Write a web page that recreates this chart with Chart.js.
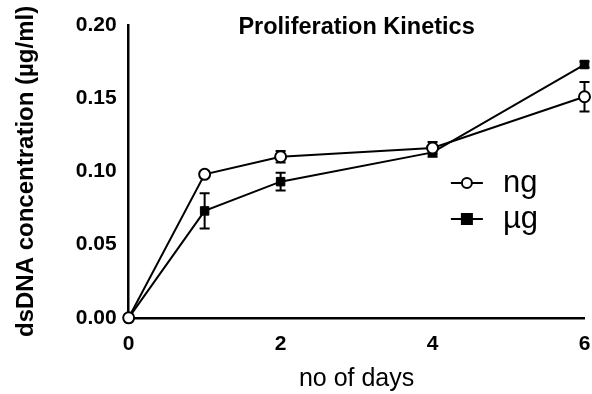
<!DOCTYPE html>
<html><head><meta charset="utf-8">
<script src="https://cdn.jsdelivr.net/npm/chart.js@4/dist/chart.umd.min.js"></script>
<style>html,body{margin:0;padding:0;background:#fff}#wrap{width:592px;height:394px}</style>
</head><body><div id="wrap"><canvas id="c" width="592" height="394"></canvas></div>
<script>
const days = [0, 1, 2, 4, 6];
const ngMean = [0, 0.098, 0.110, 0.116, 0.151];
const ngErr = [0, 0.002, 0.004, 0.004, 0.010];
const ugMean = [0, 0.073, 0.093, 0.113, 0.173];
const ugErr = [0, 0.012, 0.006, 0.003, 0.002];
const seriesNames = ['ng', '\u00b5g'];
const xTicks = [0, 2, 4, 6];
const yTicks = [0, 0.05, 0.10, 0.15, 0.20];
const chartTitle = 'Proliferation Kinetics';
const xTitle = 'no of days';
const yTitle = 'dsDNA concentration (\u00b5g/ml)';

const FONT = '"Liberation Sans", Arial, Helvetica, sans-serif';
const errs = [ngErr, ugErr];

const errorBars = {
  id: 'errorBars',
  beforeDatasetsDraw(chart) {
    const ctx = chart.ctx, y = chart.scales.y, x = chart.scales.x;
    ctx.save();
    ctx.strokeStyle = '#000'; ctx.lineWidth = 2;
    chart.data.datasets.forEach((ds, i) => {
      ds.data.forEach((p, j) => {
        const e = errs[i][j]; if (!e) return;
        const px = x.getPixelForValue(p.x);
        const y1 = y.getPixelForValue(p.y + e), y2 = y.getPixelForValue(p.y - e);
        ctx.beginPath();
        ctx.moveTo(px, y1); ctx.lineTo(px, y2);
        ctx.moveTo(px - 5, y1); ctx.lineTo(px + 5, y1);
        ctx.moveTo(px - 5, y2); ctx.lineTo(px + 5, y2);
        ctx.stroke();
      });
    });
    ctx.restore();
  }
};

const overlay = {
  id: 'overlay',
  afterDraw(chart) {
    const ctx = chart.ctx, a = chart.chartArea;
    ctx.save();
    ctx.fillStyle = '#000';
    ctx.font = 'bold 23.5px ' + FONT;
    ctx.textAlign = 'center'; ctx.textBaseline = 'middle';
    ctx.fillText(chartTitle, (a.left + a.right) / 2, a.top + 3);
    // legend
    const lx = a.left + (a.right - a.left) * 0.742;
    const rows = [a.top + 158, a.top + 194];
    chart.data.datasets.forEach((ds, i) => {
      const yy = rows[i];
      ctx.strokeStyle = '#000'; ctx.lineWidth = 2;
      ctx.beginPath(); ctx.moveTo(lx - 16, yy); ctx.lineTo(lx + 16, yy); ctx.stroke();
      if (i === 0) {
        ctx.beginPath(); ctx.arc(lx, yy, 5, 0, Math.PI * 2);
        ctx.fillStyle = '#fff'; ctx.fill(); ctx.stroke();
      } else {
        ctx.fillStyle = '#000'; ctx.fillRect(lx - 6, yy - 6, 12, 12);
      }
      ctx.fillStyle = '#000';
      ctx.font = '31px ' + FONT;
      ctx.textAlign = 'left'; ctx.textBaseline = 'middle';
      ctx.fillText(ds.label, lx + 36, yy);
    });
    ctx.restore();
  }
};

new Chart(document.getElementById('c'), {
  type: 'line',
  data: {
    datasets: [
      { label: seriesNames[0], data: days.map((d, i) => ({ x: d, y: ngMean[i] })),
        borderColor: '#000', borderWidth: 2, pointStyle: 'circle', pointRadius: 5.5,
        pointBackgroundColor: '#fff', pointBorderColor: '#000', pointBorderWidth: 2, clip: false, tension: 0 },
      { label: seriesNames[1], data: days.map((d, i) => ({ x: d, y: ugMean[i] })),
        borderColor: '#000', borderWidth: 2, pointStyle: 'rect', pointRadius: 6,
        pointBackgroundColor: '#000', pointBorderColor: '#000', pointBorderWidth: 1, clip: false, tension: 0 }
    ]
  },
  options: {
    responsive: false, animation: false,
    layout: { padding: { top: 25, right: 6, left: 12, bottom: 0 } },
    plugins: { legend: { display: false }, title: { display: false }, tooltip: { enabled: false } },
    scales: {
      x: {
        type: 'linear', min: 0, max: 6,
        afterBuildTicks: s => { s.ticks = xTicks.map(v => ({ value: v })); },
        afterFit: s => { s.paddingRight = 0; },
        grid: { display: false, drawTicks: true, tickLength: 7, tickWidth: 2, tickColor: '#000' },
        border: { display: true, color: '#000', width: 2.5 },
        ticks: { color: '#000', font: { family: FONT, size: 21, weight: 'bold' }, padding: 7, maxRotation: 0 },
        title: { display: true, text: xTitle, color: '#000', font: { family: FONT, size: 25 }, padding: { top: 0, bottom: 0 } }
      },
      y: {
        min: 0, max: 0.20,
        afterBuildTicks: s => { s.ticks = yTicks.map(v => ({ value: v })); },
        grid: { display: false, drawTicks: true, tickLength: 7, tickWidth: 2, tickColor: '#000' },
        border: { display: true, color: '#000', width: 2.5 },
        ticks: { color: '#000', font: { family: FONT, size: 21, weight: 'bold' }, padding: 5,
          callback: v => Number(v).toFixed(2) },
        title: { display: true, text: yTitle, color: '#000', font: { family: FONT, size: 24, weight: 'bold' }, padding: { top: 0, bottom: 30 } }
      }
    }
  },
  plugins: [errorBars, overlay]
});
</script></body></html>
